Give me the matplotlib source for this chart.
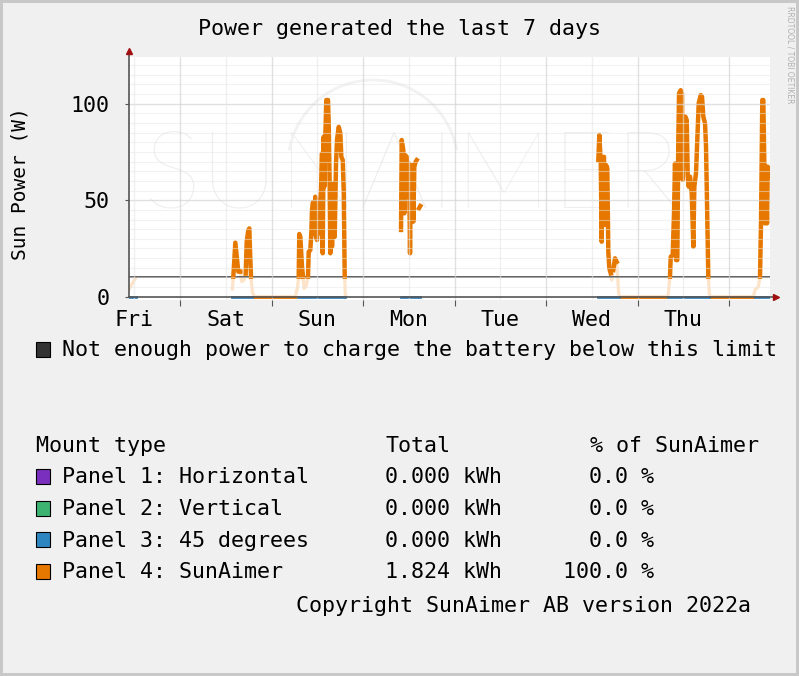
import numpy as np
import matplotlib.pyplot as plt
from matplotlib.patches import Rectangle, Arc
from matplotlib.transforms import IdentityTransform

nan = np.nan
W, H = 799, 676

# hours counted from Friday 00:00 of the first week, power in W
hours = [10.65, 11.75, 12.45, 13.0,
         37.72, 37.98, 38.51, 39.03, 39.29, 39.82, 40.18, 40.79, 41.23, 41.49,
         41.91, 42.18, 42.36, 42.62, 42.96, 43.49,
         54.24, 54.82, 55.13, 55.29, 55.56, 56.00, 56.26, 56.52, 57.05, 57.57,
         57.76, 58.18, 58.44, 58.62, 58.89, 59.15, 59.33, 59.49, 59.67, 59.93,
         60.20, 60.38, 60.64, 60.98, 61.25, 61.43, 61.69, 61.85, 62.11, 62.37,
         62.82, 63.00, 63.27, 63.42, 63.69, 63.87, 64.31, 64.58, 64.92, 65.18,
         65.63, 66.05, 66.31, 66.68, 66.94, 67.20, 67.36, 67.67, 68.0,
         81.97, 82.15, 82.57, 82.83, 83.02, 83.46, 83.72, 84.07, 84.33, 84.59,
         84.93, 85.19, 85.46, 85.82, 86.09, 86.4, 86.69, 87.03, 87.3,
         133.72, 133.98, 134.35, 134.61, 134.87, 135.21, 135.48, 135.74, 136.08,
         136.34, 136.61, 136.97, 137.23, 137.65, 138.10, 138.54, 138.81, 139.07,
         139.28,
         151.87, 152.08, 152.30, 152.52, 152.71, 153.23, 153.57, 153.84, 154.10,
         154.44, 154.70, 154.89, 155.33, 155.67, 155.86, 156.20, 156.54, 156.91,
         157.17, 157.43, 157.77, 158.22, 158.64, 158.90, 159.34, 159.69, 160.05,
         160.58, 160.92, 161.26, 161.71, 161.97, 162.31, 162.57, 162.83, 163.02,
         174.43, 174.82, 175.69, 176.13, 176.39, 176.73, 177.00, 177.26, 177.44,
         177.70, 177.97, 178.15, 178.49]
power = [4.0, 7.8, 10.0, nan,
         4.0, 10.4, 28.0, 18.0, 13.0, 13.0, 7.8, 8.6, 12.0, 28.5,
         34.5, 35.4, 24.0, 10.4, 2.6, 0.0,
         0.0, 5.0, 10.4, 32.5, 31.0, 15.5, 10.4, 4.3, 5.2, 10.4,
         23.3, 24.2, 32.8, 45.0, 49.0, 32.8, 45.0, 51.8, 31.0, 29.4,
         47.5, 32.8, 45.8, 55.3, 74.3, 22.5, 82.9, 57.0, 82.9, 101.9,
         101.9, 89.8, 55.3, 22.5, 50.0, 26.0, 58.8, 31.0, 69.0, 81.2,
         88.0, 84.7, 72.5, 70.8, 55.3, 10.4, 0.9, 0.0, nan,
         34.6, 81.2, 76.0, 43.2, 73.4, 72.5, 51.8, 69.0, 22.5, 67.4,
         68.2, 38.9, 67.4, 70.0, 70.8, nan, 45.8, 47.0, nan,
         70.8, 83.8, 70.0, 28.5, 71.7, 72.5, 37.2, 68.2, 66.5,
         23.3, 14.7, 12.1, 8.7, 13.8, 19.9, 18.1, 9.5, 1.8,
         0.0,
         0.0, 1.8, 6.0, 10.4, 20.7, 21.6, 43.2, 69.0, 19.0,
         19.0, 81.2, 105.4, 107.0, 105.4, 60.5, 86.4, 93.3, 91.5,
         62.2, 57.0, 62.2, 53.6, 25.9, 57.0, 63.9, 81.2, 100.2,
         104.5, 103.6, 93.3, 89.8, 77.7, 39.7, 10.4, 1.8, 0.0,
         0.0, 3.5, 5.2, 10.4, 38.0, 101.9, 101.9, 69.0, 38.0,
         67.4, 38.0, 67.4, 62.2]

limit = 10
day_labels = ["Fri", "Sat", "Sun", "Mon", "Tue", "Wed", "Thu"]
day_noons = [12, 36, 60, 84, 108, 132, 156]
midnights = [24, 48, 72, 96, 120, 144, 168]
y_ticks = [0, 50, 100]

mounts = ["Panel 1: Horizontal", "Panel 2: Vertical", "Panel 3: 45 degrees", "Panel 4: SunAimer"]
totals = ["0.000 kWh", "0.000 kWh", "0.000 kWh", "1.824 kWh"]
shares = ["0.0 %", "0.0 %", "0.0 %", "100.0 %"]
mount_colors = ["#7b2fbe", "#3cb371", "#2e86c1", "#e67800"]

ORANGE = "#e67800"
PEACH = "#fde3c8"
BLUE = "#3a84bd"
FS = 15.6

plt.rcParams['font.family'] = ['DejaVu Sans Mono']
plt.rcParams['font.size'] = FS

t = np.array(hours)
p = np.array(power)

fig = plt.figure(figsize=(W / 100, H / 100), dpi=100)
fig.patch.set_facecolor("#f0f0f0")
fig.patch.set_edgecolor("#c8c8c8")
fig.patch.set_linewidth(3)

def fx(x):
    return x / W

def fy(y):
    return 1 - y / H

ax = fig.add_axes([fx(129), fy(300), (770 - 129) / W, (300 - 57) / H])
ax.set_facecolor("white")
ax.set_xlim(10.62, 178.75)
ax.set_ylim(-1.7, 124.2)
for s in ax.spines.values():
    s.set_visible(False)

# watermark
ax.text(0.44, 0.5, "SUNAIMER", transform=ax.transAxes, ha="center", va="center",
        fontsize=78, family="Lato", fontweight="light", color="#efefef", zorder=0.5)
ax.add_patch(Arc((373, H - 165), 170, 170, theta1=10, theta2=170, transform=IdentityTransform(),
                 color="#f2f2f2", lw=2, zorder=0.5))

# data
ax.plot(t, p, color=PEACH, lw=2.3, zorder=2, solid_joinstyle="round")
ax.axhline(limit, color="#444444", lw=1.2, zorder=2.5)
ax.plot(t, np.where(p >= limit, p, nan), color=ORANGE, lw=3.2, zorder=3)
ax.plot(t, np.where(p == 0, 0.0, nan), color=ORANGE, lw=2.0, zorder=3.2)
ax.plot(t, np.where(p > 0, 0.0, nan), color=BLUE, lw=2.0, zorder=3.3)

# grid on top of the data
for v in range(5, 125, 5):
    if v % 50 == 0:
        ax.axhline(v, color="#d4d4d4", lw=1, alpha=0.7, zorder=4)
    else:
        ax.axhline(v, color="#e6e6e6", lw=0.8, alpha=0.5, zorder=4)
for m in midnights:
    ax.axvline(m, color="#d4d4d4", lw=1, alpha=0.7, zorder=4)
for n in day_noons:
    ax.axvline(n, color="#e6e6e6", lw=1, alpha=0.6, zorder=4)

# axes with arrows
x0, x1 = 10.62, 180.3
ax.plot([x0, x0], [0, 126.5], color="#555555", lw=1.2, clip_on=False, zorder=5)
ax.plot([x0, x1], [0, 0], color="#555555", lw=1.2, clip_on=False, zorder=5)
ax.plot([x0], [127.3], marker="^", ms=5, color="#a01010", clip_on=False, zorder=6)
ax.plot([x1], [0], marker=">", ms=5, color="#a01010", clip_on=False, zorder=6)

ax.set_yticks(y_ticks)
ax.tick_params(axis="y", length=3, color="#555555", pad=11, labelsize=FS)
ax.set_xticks(midnights, [""] * len(midnights))
ax.set_xticks(day_noons, day_labels, minor=True)
ax.tick_params(axis="x", which="major", length=4, color="#555555")
ax.tick_params(axis="x", which="minor", length=0, pad=7, labelsize=FS)

# titles
fig.text(fx(400), fy(35), "Power generated the last 7 days", ha="center", va="baseline")
fig.text(fx(20), fy(184), "Sun Power (W)", rotation=90, ha="center", va="center", fontsize=14)
fig.text(fx(790), fy(6), "RRDTOOL / TOBI OETIKER", rotation=270, ha="center", va="top",
         fontsize=5.5, color="#b0b0b0", family="DejaVu Sans")

# legend
def swatch(x, y, color):
    fig.patches.append(Rectangle((fx(x), fy(y + 15)), 14 / W, 15 / H, transform=fig.transFigure,
                                 facecolor=color, edgecolor="black", lw=0.8))

swatch(36, 342, "#333333")
fig.text(fx(62), fy(356.5), "Not enough power to charge the battery below this limit", va="baseline")

fig.text(fx(36), fy(451.7), "Mount type", va="baseline")
fig.text(fx(385), fy(451.7), "Total", va="baseline")
fig.text(fx(590), fy(451.7), "% of SunAimer", va="baseline")
for i, (name, tot, share, col) in enumerate(zip(mounts, totals, shares, mount_colors)):
    base = 483.3 + i * 31.7
    swatch(36, base - 14.5, col)
    fig.text(fx(62), fy(base), name, va="baseline")
    fig.text(fx(385), fy(base), tot, va="baseline")
    fig.text(fx(654), fy(base), share, va="baseline", ha="right")

fig.text(fx(296), fy(611.7), "Copyright SunAimer AB version 2022a", va="baseline")

fig.savefig("out.png", dpi=100, facecolor=fig.get_facecolor(), edgecolor=fig.get_edgecolor())
